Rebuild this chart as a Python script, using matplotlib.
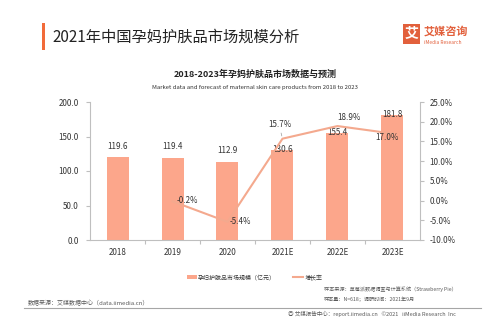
import numpy as np
import matplotlib.pyplot as plt
from matplotlib.patches import Rectangle

plt.rcParams['font.family'] = ['Noto Sans CJK SC', 'DejaVu Sans']

years = ['2018', '2019', '2020', '2021E', '2022E', '2023E']
market = [119.6, 119.4, 112.9, 130.6, 155.4, 181.8]
growth = [None, -0.2, -5.4, 15.7, 18.9, 17.0]
left_ticks = [0, 50, 100, 150, 200]
right_ticks = [-10, -5, 0, 5, 10, 15, 20, 25]

bar_color = '#FCA68B'
line_color = '#F4A98E'
txt = '#333333'
grey = '#595959'

W, H = 495, 326
fig = plt.figure(figsize=(W / 100, H / 100), dpi=100)


def fx(px):
    return px / W


def fy(py):
    return 1 - py / H


# header
fig.add_artist(Rectangle((fx(42), fy(50)), 3 / W, 27 / H, transform=fig.transFigure,
                         color='#F26B3A', lw=0))
fig.text(fx(52), fy(37), '2021年中国孕妈护肤品市场规模分析', fontsize=11,
         color='#222222', va='center', ha='left', weight='medium')
fig.add_artist(Rectangle((fx(403), fy(44)), 17 / W, 20 / H, transform=fig.transFigure,
                         color='#E2603C', lw=0))
fig.text(fx(411.5), fy(34), '艾', fontsize=10, color='white', weight='bold',
         ha='center', va='center')
fig.text(fx(424), fy(31), '艾媒咨询', fontsize=8, color='#E2603C', weight='bold',
         ha='left', va='center')
fig.text(fx(424), fy(42), 'iMedia Research', fontsize=3.5, color='#E2603C',
         ha='left', va='center')

# chart titles
fig.text(fx(255), fy(74), '2018-2023年孕妈护肤品市场数据与预测', fontsize=6.5,
         color='#222222', ha='center', va='center', weight='bold')
fig.text(fx(255), fy(88), 'Market data and forecast of maternal skin care products from 2018 to 2023',
         fontsize=4.3, color=txt, ha='center', va='center')

ax = fig.add_axes([fx(90), fy(240), (420 - 90) / W, (240 - 102) / H])
x = np.arange(len(years)) + 0.5
ax.bar(x, market, width=0.4, color=bar_color, zorder=2)
ax.set_xlim(0, len(years))
ax.set_ylim(0, 200)
ax.set_yticks(left_ticks)
ax.set_yticklabels(['%.1f' % v for v in left_ticks])
ax.set_xticks(x)
ax.set_xticklabels(years)
ax.set_xticks(np.arange(1, len(years)), minor=True)
ax.tick_params(axis='x', which='major', length=0, labelsize=5.8, colors=txt, pad=6)
ax.tick_params(axis='x', which='minor', length=3, color='#BFBFBF', width=0.8)
ax.tick_params(axis='y', length=3, color='#BFBFBF', labelsize=5.8, labelcolor=txt, pad=5)
for s in ['top', 'right']:
    ax.spines[s].set_visible(False)
for s in ['left', 'bottom']:
    ax.spines[s].set_color('#BFBFBF')
    ax.spines[s].set_linewidth(0.8)

# bar labels
bar_off = [8, 8, 8, 0, 0, 0]
for xi, v, off in zip(x, market, bar_off):
    ax.annotate('%.1f' % v, (xi, v), xytext=(0, off), textcoords='offset points',
                ha='center', va='center', fontsize=5.8, color=txt, zorder=5)

ax2 = ax.twinx()
gx = [xi for xi, g in zip(x, growth) if g is not None]
gy = [g for g in growth if g is not None]
ax2.plot(gx, gy, color=line_color, lw=1.5, zorder=3)
ax2.set_ylim(-10, 25)
ax2.set_yticks(right_ticks)
ax2.set_yticklabels(['%.1f%%' % v for v in right_ticks])
ax2.tick_params(axis='y', length=3, color='#BFBFBF', labelsize=5.8, labelcolor=txt, pad=4)
for s in ['top', 'left', 'bottom']:
    ax2.spines[s].set_visible(False)
ax2.spines['right'].set_color('#BFBFBF')
ax2.spines['right'].set_linewidth(0.8)

# growth labels (offsets in points)
g_off = [(11, 0.5), (9, 0), (-2, 10), (8, 6.5), (-4, -2.5)]
for xi, g, (dx, dy) in zip(gx, gy, g_off):
    ax2.annotate('%.1f%%' % g, (xi, g), xytext=(dx, dy), textcoords='offset points',
                 ha='center', va='center', fontsize=5.8, color=txt, zorder=5)
ax2.annotate('', (gx[2], gy[2]), xytext=(-1.5, 6), textcoords='offset points',
             arrowprops=dict(arrowstyle='-', color='#999999', lw=0.5))

# legend
fig.add_artist(Rectangle((fx(187), fy(279)), 10 / W, 4 / H, transform=fig.transFigure,
                         color=bar_color, lw=0))
fig.text(fx(198), fy(277), '孕妇护肤品市场规模（亿元）', fontsize=4.3, color=txt,
         ha='left', va='center')
fig.add_artist(plt.Line2D([fx(293), fx(303)], [fy(277), fy(277)], color=line_color, lw=1.5))
fig.text(fx(305), fy(277), '增长率', fontsize=4.3, color=txt, ha='left', va='center')

# notes
fig.text(fx(324), fy(289), '样本来源：草莓派数据调查与计算系统（Strawberry Pie）', fontsize=3.7,
         color=grey, ha='left', va='center')
fig.text(fx(324), fy(299), '样本量：N=618；调研时间：2021年9月', fontsize=3.7,
         color=grey, ha='left', va='center')
fig.text(fx(28), fy(303), '数据来源：艾媒数据中心（data.iimedia.cn）', fontsize=4.3,
         color=grey, ha='left', va='center')
fig.add_artist(plt.Line2D([fx(24), fx(481)], [fy(308), fy(308)], color='#A6A6A6', lw=0.8))
fig.text(fx(288), fy(314), '◎ 艾媒报告中心：report.iimedia.cn   ©2021   iiMedia Research  Inc',
         fontsize=4.0, color=grey, ha='left', va='center')

fig.savefig('out.png', dpi=100)
